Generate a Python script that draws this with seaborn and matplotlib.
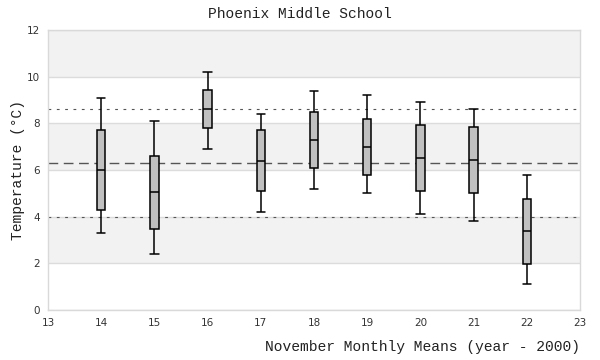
import numpy as np
import pandas as pd
import matplotlib
matplotlib.use("Agg")
import matplotlib.pyplot as plt
import seaborn as sns

# Data: five-number summaries per year (min, q1, median, q3, max)
years = [14, 15, 16, 17, 18, 19, 20, 21, 22]
mins = [3.29, 2.39, 6.89, 4.19, 5.17, 5.00, 4.10, 3.80, 1.10]
q1s = [4.27, 3.46, 7.79, 5.09, 6.07, 5.77, 5.09, 5.00, 1.96]
medians = [6.00, 5.04, 8.60, 6.39, 7.27, 6.97, 6.50, 6.42, 3.37]
q3s = [7.70, 6.61, 9.41, 7.70, 8.47, 8.17, 7.92, 7.83, 4.74]
maxs = [9.07, 8.09, 10.19, 8.39, 9.37, 9.20, 8.90, 8.60, 5.77]

ref_upper = 8.6
ref_mean = 6.29
ref_lower = 3.97

x_ticks = list(range(13, 24))
y_ticks = [0, 2, 4, 6, 8, 10, 12]

title = "Phoenix Middle School"
xlabel = "November Monthly Means (year - 2000)"
ylabel = "Temperature (°C)"

rows = []
for y, a, b, c, d, e in zip(years, mins, q1s, medians, q3s, maxs):
    for v in (a, b, c, d, e):
        rows.append({"year": y, "temp": v})
df = pd.DataFrame(rows)

sns.set_theme(style="white")
plt.rcParams["font.family"] = ["DejaVu Sans"]

fig = plt.figure(figsize=(6, 3.6), dpi=100)
ax = fig.add_axes([48 / 600, 1 - 310 / 360, (580 - 48) / 600, (310 - 30) / 360])

# alternating background bands
for i, (lo, hi) in enumerate(zip(y_ticks[:-1], y_ticks[1:])):
    if i % 2 == 1:
        ax.axhspan(lo, hi, color="#f2f2f2", zorder=0, lw=0)
for t in y_ticks:
    ax.axhline(t, color="#dcdcdc", lw=1, zorder=0.5)

ax.axhline(ref_upper, color="#555555", lw=0.8, ls=(0, (2.5, 5)), zorder=1)
ax.axhline(ref_lower, color="#555555", lw=0.8, ls=(0, (2.5, 5)), zorder=1)
ax.axhline(ref_mean, color="#555555", lw=1.0, ls=(0, (7, 4)), zorder=1)

box_w = 0.16
sns.boxplot(data=df, x="year", y="temp", native_scale=True, whis=(0, 100),
            width=box_w, color="#c0c0c0", linecolor="black", linewidth=1.1,
            fill=True, ax=ax, zorder=3,
            boxprops=dict(facecolor="#c0c0c0", edgecolor="black"),
            capprops=dict(color="black"), whiskerprops=dict(color="black"),
            medianprops=dict(color="black"))

# widen the whisker caps to the box width
for ln in ax.lines:
    xd = np.asarray(ln.get_xdata(), dtype=float)
    yd = np.asarray(ln.get_ydata(), dtype=float)
    if len(xd) == 2 and yd[0] == yd[1] and xd[0] != xd[1]:
        span = abs(xd[1] - xd[0])
        if span < box_w * 0.95:
            c = xd.mean()
            ln.set_xdata([c - box_w / 2, c + box_w / 2])

ax.set_xlim(13, 23)
ax.set_ylim(0, 12)
ax.set_xticks(x_ticks)
ax.set_xticklabels([str(t) for t in x_ticks])
ax.set_yticks(y_ticks)
ax.set_yticklabels([str(t) for t in y_ticks])
ax.tick_params(axis="both", length=0, labelsize=7.5, labelcolor="#333333", pad=6)

for s in ax.spines.values():
    s.set_color("#d9d9d9")
    s.set_linewidth(1)

mono = ["Liberation Mono", "DejaVu Sans Mono"]
ax.set_xlabel("")
ax.set_ylabel("")
fig.text(580 / 600, 1 - 347 / 360, xlabel, ha="right", va="center",
         fontsize=10.5, family=mono, color="#222222")
fig.text(18 / 600, 1 - 170 / 360, ylabel, ha="center", va="center", rotation=90,
         fontsize=10.5, family=mono, color="#222222")
fig.text(300 / 600, 1 - 14 / 360, title, ha="center", va="center",
         fontsize=10.5, family=mono, color="#222222")

fig.savefig("out.png", dpi=100)
